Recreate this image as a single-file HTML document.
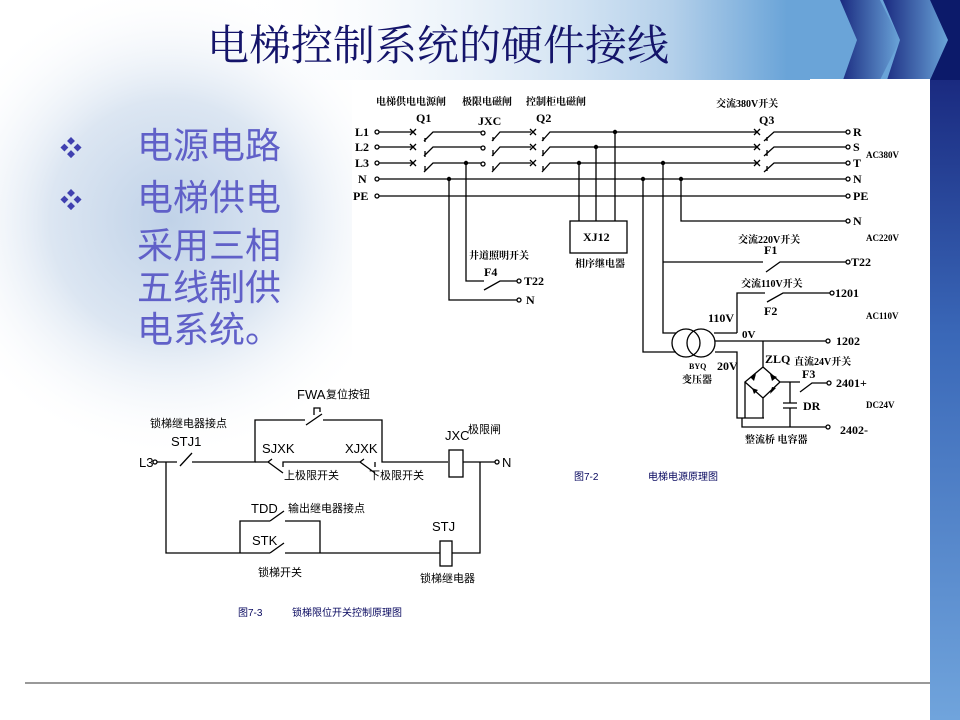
<!DOCTYPE html>
<html><head><meta charset="utf-8"><style>
html,body{margin:0;padding:0;width:960px;height:720px;overflow:hidden;background:#fff}
svg{display:block}
.t{font-family:"Liberation Serif","Noto Serif CJK SC",serif;font-weight:bold;fill:#000}
.c{font-family:"Liberation Sans","Noto Sans CJK SC",sans-serif;fill:#000}
</style></head><body>
<svg width="960" height="720" viewBox="0 0 960 720" xmlns="http://www.w3.org/2000/svg">
<defs>
<linearGradient id="hdr" x1="0" x2="1" y1="0" y2="0">
<stop offset="0" stop-color="#ffffff" stop-opacity="0"/><stop offset="0.25" stop-color="#ffffff" stop-opacity="0"/>
<stop offset="0.7" stop-color="#b4d0ea"/><stop offset="0.82" stop-color="#6aa4d8"/><stop offset="1" stop-color="#6aa4d8"/></linearGradient>
<linearGradient id="bar" x1="0" x2="0" y1="0" y2="1">
<stop offset="0" stop-color="#1a2a80"/><stop offset="0.4" stop-color="#3a68b8"/><stop offset="1" stop-color="#70a4dc"/></linearGradient>
<linearGradient id="chev" x1="0" x2="1" y1="0" y2="0">
<stop offset="0" stop-color="#1a2a80"/><stop offset="1" stop-color="#6aa4d8"/></linearGradient>
<radialGradient id="lb" cx="170" cy="220" r="240" gradientUnits="userSpaceOnUse">
<stop offset="0" stop-color="#c0d2e8"/><stop offset="0.5" stop-color="#dce6f2"/><stop offset="1" stop-color="#ffffff" stop-opacity="0"/></radialGradient>
</defs>
<rect x="0" y="0" width="960" height="720" fill="url(#lb)"/>
<rect x="0" y="0" width="960" height="80" fill="url(#hdr)"/>
<!-- chevrons -->
<polygon points="840,0 880,0 900,40 880,80 843,80 857,40" fill="url(#chev)"/>
<polygon points="883,0 930,0 948,40 930,80 887,80 900,40" fill="url(#chev)"/>
<polygon points="930,0 960,0 960,80 930,80 948,40" fill="#0c1a6a"/>
<rect x="930" y="80" width="30" height="640" fill="url(#bar)"/>
<rect x="352" y="86" width="578" height="400" fill="#fff"/>
<rect x="810" y="79" width="120" height="10" fill="#fff"/>
<line x1="25" y1="683" x2="930" y2="683" stroke="#333" stroke-width="1"/>

<text x="207" y="60" font-family="Liberation Serif,'Noto Serif CJK SC',serif" font-size="42" fill="#14146a">电梯控制系统的硬件接线</text>

<g font-family="'Liberation Sans','Noto Sans CJK SC',sans-serif" font-size="36" fill="#6060c8">
<text x="60" y="156" font-size="22" fill="#4040b0">❖</text>
<text x="137" y="158">电源电路</text>
<text x="60" y="208" font-size="22" fill="#4040b0">❖</text>
<text x="137" y="210">电梯供电</text>
<text x="137" y="258">采用三相</text>
<text x="137" y="300">五线制供</text>
<text x="137" y="342">电系统。</text>
</g>

<!-- power diagram -->
<g stroke="#000" stroke-width="1.3" fill="none">
<circle cx="377" cy="132" r="2"/><circle cx="377" cy="147" r="2"/><circle cx="377" cy="163" r="2"/><circle cx="377" cy="179" r="2"/><circle cx="377" cy="196" r="2"/>
<line x1="379" y1="132" x2="413" y2="132"/><line x1="379" y1="147" x2="413" y2="147"/><line x1="379" y1="163" x2="413" y2="163"/>
<line x1="379" y1="179" x2="846" y2="179"/><line x1="379" y1="196" x2="846" y2="196"/>
<path d="M410,129l6,6M416,129l-6,6M410,144l6,6M416,144l-6,6M410,160l6,6M416,160l-6,6"/>
<path d="M424,141L433,132H481M424,156L433,147H481M424,172L433,163H481M425,138v4M425,151v6M425,166v5"/>
<circle cx="483" cy="133" r="2"/><circle cx="483" cy="148" r="2"/><circle cx="483" cy="164" r="2"/>
<path d="M492,141L500,132H531M492,156L500,147H531M492,172L500,163H531M493,137v4M493,150v6M493,166v5"/>
<path d="M530,129l6,6M536,129l-6,6M530,144l6,6M536,144l-6,6M530,160l6,6M536,160l-6,6"/>
<path d="M542,141L550,132H757M542,156L550,147H757M542,172L550,163H757M543,137v4M543,150v6M543,166v5"/>
<path d="M754,129l6,6M760,129l-6,6M754,144l6,6M760,144l-6,6M754,160l6,6M760,160l-6,6"/>
<path d="M764,141L774,132H846M764,156L774,147H846M764,172L774,163H846M767,137v4M767,150v6M767,166v5"/>
<circle cx="848" cy="132" r="2"/><circle cx="848" cy="147" r="2"/><circle cx="848" cy="163" r="2"/><circle cx="848" cy="179" r="2"/><circle cx="848" cy="196" r="2"/>
<rect x="570" y="221" width="57" height="32"/>
<path d="M579,163V221M596,147V221M615,132V221"/>
<path d="M466,163V281H484M484,290L500,281H517M449,179V300H517"/>
<circle cx="519" cy="281" r="2"/><circle cx="519" cy="300" r="2"/>
<path d="M681,179V221H846"/><circle cx="848" cy="221" r="2"/>
<path d="M663,163V333H676M663,262H763M766,272L780,262H846"/><circle cx="848" cy="262" r="2"/>
<path d="M643,179V352H676M737,333V293H765M767,302L783,293H830"/><circle cx="832" cy="293" r="2"/>
<path d="M714,333H737"/>
<circle cx="686" cy="343" r="14"/><circle cx="701" cy="343" r="14"/>
<path d="M715,341H826M715,352H737V418H764"/><circle cx="828" cy="341" r="2"/>
<path d="M763,341V367L745,382L763,398L780,382L763,367M745,382V418M763,398V418M780,382H800M790,382V403M783,403H797M783,408H797M790,408V427M742,418V427H826M800,392L812,383H827"/>
<circle cx="828" cy="427" r="2"/><circle cx="829" cy="383" r="2"/>
</g>
<g fill="#000">
<circle cx="615" cy="132" r="2.2"/><circle cx="596" cy="147" r="2.2"/><circle cx="579" cy="163" r="2.2"/><circle cx="663" cy="163" r="2.2"/><circle cx="466" cy="163" r="2.2"/>
<circle cx="449" cy="179" r="2.2"/><circle cx="643" cy="179" r="2.2"/><circle cx="681" cy="179" r="2.2"/>
<polygon points="750,377 756,374 754,381"/><polygon points="770,374 777,377 772,381"/><polygon points="752,388 758,390 754,394"/><polygon points="770,394 776,388 772,387"/>
</g>
<g class="t" font-size="10">
<text x="376" y="105">电梯供电电源闸</text><text x="462" y="105">极限电磁闸</text><text x="526" y="105">控制柜电磁闸</text>
<text x="716" y="107">交流380V开关</text>
<text x="416" y="122" font-size="12">Q1</text><text x="478" y="125" font-size="12">JXC</text><text x="536" y="122" font-size="12">Q2</text><text x="759" y="124" font-size="12">Q3</text>
<text x="355" y="136" font-size="12">L1</text><text x="355" y="151" font-size="12">L2</text><text x="355" y="167" font-size="12">L3</text><text x="358" y="183" font-size="12">N</text><text x="353" y="200" font-size="12">PE</text>
<text x="853" y="136" font-size="12">R</text><text x="853" y="151" font-size="12">S</text><text x="853" y="167" font-size="12">T</text><text x="853" y="183" font-size="12">N</text><text x="853" y="200" font-size="12">PE</text>
<text x="853" y="225" font-size="12">N</text>
<text x="866" y="158" font-size="9">AC380V</text><text x="866" y="241" font-size="9">AC220V</text><text x="866" y="319" font-size="9">AC110V</text><text x="866" y="408" font-size="9">DC24V</text>
<text x="583" y="241" font-size="12">XJ12</text><text x="575" y="267">相序继电器</text>
<text x="469" y="259">井道照明开关</text><text x="484" y="276" font-size="12">F4</text><text x="524" y="285" font-size="12">T22</text><text x="526" y="304" font-size="12">N</text>
<text x="738" y="243">交流220V开关</text><text x="764" y="254" font-size="12">F1</text><text x="851" y="266" font-size="12">T22</text>
<text x="741" y="287">交流110V开关</text><text x="764" y="315" font-size="12">F2</text><text x="835" y="297" font-size="12">1201</text>
<text x="708" y="322" font-size="12">110V</text><text x="742" y="338" font-size="11">0V</text><text x="836" y="345" font-size="12">1202</text>
<text x="717" y="370" font-size="12">20V</text><text x="689" y="369" font-size="8">BYQ</text><text x="682" y="383">变压器</text>
<text x="765" y="363" font-size="12">ZLQ</text><text x="794" y="365">直流24V开关</text><text x="802" y="378" font-size="12">F3</text>
<text x="836" y="387" font-size="12">2401+</text><text x="803" y="410" font-size="12">DR</text><text x="840" y="434" font-size="12">2402-</text>
<text x="745" y="443">整流桥 电容器</text>
</g>
<g class="c" font-size="10" fill="#0a0a60">
<text x="574" y="480" fill="#0a0a60">图7-2</text><text x="648" y="480" fill="#0a0a60">电梯电源原理图</text>
<text x="238" y="616" fill="#0a0a60">图7-3</text><text x="292" y="616" fill="#0a0a60">锁梯限位开关控制原理图</text>
</g>

<!-- lock diagram -->
<g stroke="#000" stroke-width="1.3" fill="none">
<circle cx="155" cy="462" r="2"/><circle cx="497" cy="462" r="2"/>
<path d="M157,462H177M180,466L192,453M192,462H255V420H305M306,425L322,414M323,420H382V462H448"/>
<path d="M255,462H268L283,473M268,462l4,-3M283,467V462H360L375,473M360,462l4,-3M375,467V462"/>
<path d="M314,415v-7h6v4"/>
<rect x="449" y="450" width="14" height="27"/>
<path d="M463,462H495M480,462V553H452M166,462V553H270M270,553L284,543M285,553H440M240,553V521H270M270,521L284,511M285,521H320V553"/>
<rect x="440" y="541" width="12" height="25"/>
</g>
<g class="c" font-size="11">
<text x="139" y="467" font-size="13">L3</text><text x="502" y="467" font-size="13">N</text>
<text x="150" y="427">锁梯继电器接点</text><text x="171" y="446" font-size="13">STJ1</text>
<text x="297" y="399" font-size="13">FWA</text><text x="326" y="398">复位按钮</text>
<text x="262" y="453" font-size="13">SJXK</text><text x="345" y="453" font-size="13">XJXK</text>
<text x="284" y="479">上极限开关</text><text x="369" y="479">下极限开关</text>
<text x="445" y="440" font-size="13">JXC</text><text x="468" y="433">极限闸</text>
<text x="251" y="513" font-size="13">TDD</text><text x="288" y="512">输出继电器接点</text>
<text x="252" y="545" font-size="13">STK</text><text x="258" y="576">锁梯开关</text>
<text x="432" y="531" font-size="13">STJ</text><text x="420" y="582">锁梯继电器</text>
</g>
</svg>
</body></html>
